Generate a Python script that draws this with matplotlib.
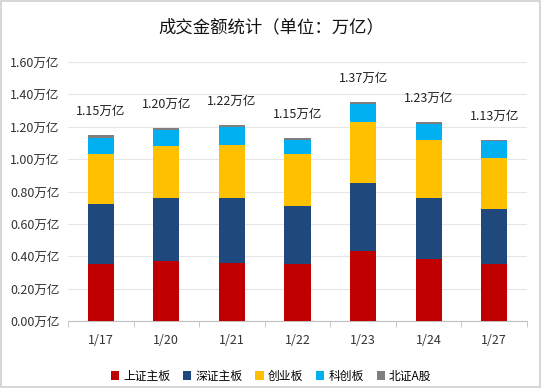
import numpy as np
import matplotlib
matplotlib.use('Agg')
from matplotlib import pyplot as plt
from matplotlib.patches import Rectangle

plt.rcParams['font.family'] = ['Noto Sans CJK SC', 'DejaVu Sans']

dates = ['1/17', '1/20', '1/21', '1/22', '1/23', '1/24', '1/27']
sh_main = [0.35, 0.37, 0.36, 0.35, 0.43, 0.38, 0.35]
sz_main = [0.37, 0.39, 0.40, 0.36, 0.42, 0.38, 0.34]
chinext = [0.31, 0.32, 0.33, 0.32, 0.38, 0.36, 0.32]
star = [0.10, 0.10, 0.11, 0.09, 0.11, 0.10, 0.10]
bse = [0.02, 0.01, 0.01, 0.01, 0.01, 0.01, 0.01]
totals = ['1.15万亿', '1.20万亿', '1.22万亿', '1.15万亿', '1.37万亿', '1.23万亿', '1.13万亿']

series = [sh_main, sz_main, chinext, star, bse]
names = ['上证主板', '深证主板', '创业板', '科创板', '北证A股']
colors = ['#C00000', '#1F497D', '#FFC000', '#00B0F0', '#7F7F7F']

fig = plt.figure(figsize=(5.42, 3.88), dpi=100)
ax = fig.add_axes([68/542, 1-321/388, (527-68)/542, (321-62)/388])

x = np.arange(len(dates))
bottom = np.zeros(len(dates))
for vals, name, c in zip(series, names, colors):
    ax.bar(x, vals, 0.4, bottom=bottom, color=c, label=name, zorder=3)
    bottom += np.array(vals)

# total labels above each bar
for xi, top, t in zip(x, bottom, totals):
    ax.annotate(t, (xi, top), xytext=(0, 17), textcoords='offset points',
                ha='center', va='center', fontsize=9, color='#222222')

ax.set_xlim(-0.5, len(dates) - 0.5)
ax.set_ylim(0, 1.6)
yt = np.arange(0, 1.61, 0.2)
ax.set_yticks(yt)
ax.set_yticklabels(['%.2f万亿' % v for v in yt], fontsize=9, color='#333333')
ax.set_xticks(x)
ax.set_xticklabels(dates, fontsize=9, color='#333333')
ax.tick_params(axis='x', length=0, pad=9)
ax.tick_params(axis='y', length=0, pad=6)
ax.set_xticks(np.arange(-0.5, len(dates)), minor=True)
ax.tick_params(axis='x', which='minor', length=4, color='#BFBFBF', direction='out')
ax.grid(axis='y', color='#E6E6E6', linewidth=0.8, zorder=0)
for s in ['top', 'right', 'left']:
    ax.spines[s].set_visible(False)
ax.spines['bottom'].set_color('#BFBFBF')

fig.text(0.5, 1-27/388, '成交金额统计（单位：万亿）', ha='center', va='center',
         fontsize=12.5, color='#111111')

fig.legend(loc='center', bbox_to_anchor=(0.5, 1-376/388), ncol=5, frameon=False,
           fontsize=8.5, handlelength=0.7, handleheight=0.7, handletextpad=0.35,
           columnspacing=1.1)

# light chart border
fig.patches.append(Rectangle((0.002, 0.003), 0.994, 0.994, transform=fig.transFigure,
                             fill=False, edgecolor='#D0D0D0', linewidth=1.2))

fig.savefig('out.png', dpi=100)
